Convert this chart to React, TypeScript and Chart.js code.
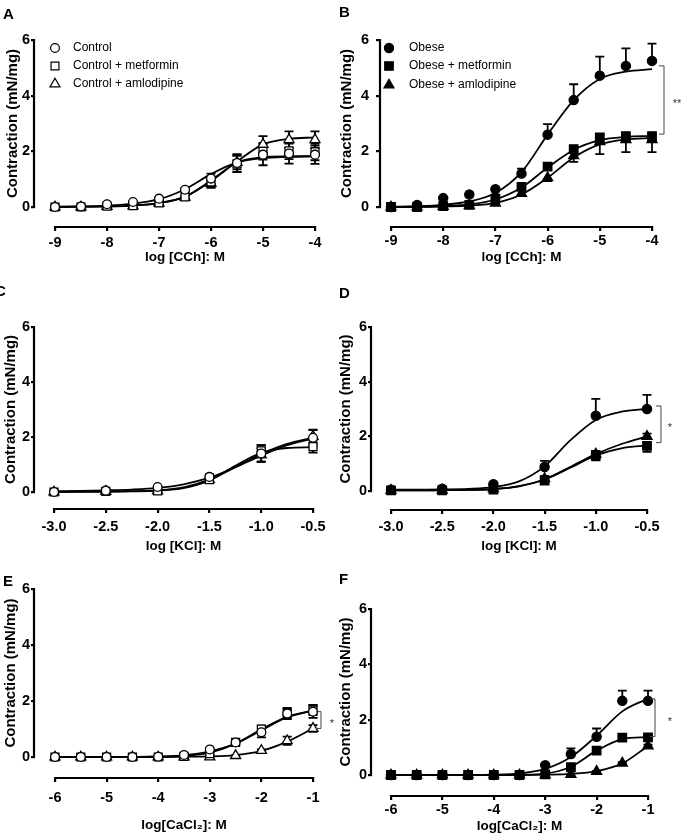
import React, { useEffect, useRef } from 'react';
import { Chart, registerables } from 'chart.js';

Chart.register(...registerables);

const FONT = "'Liberation Sans', Arial, Helvetica, sans-serif";
const CW = 686;
const CH = 837;

// ---------- shared axes ----------
const yTicks = [0, 2, 4, 6];
const yTickLabels = ['0', '2', '4', '6'];
const xCCh = [-9, -8.5, -8, -7.5, -7, -6.5, -6, -5.5, -5, -4.5, -4];
const xTicksCCh = [-9, -8, -7, -6, -5, -4];
const xTickLabelsCCh = ['-9', '-8', '-7', '-6', '-5', '-4'];
const xKCl = [-3, -2.5, -2, -1.5, -1, -0.5];
const xKClFit = [-3, -2.75, -2.5, -2.25, -2, -1.75, -1.5, -1.25, -1, -0.75, -0.5];
const xTicksKCl = [-3, -2.5, -2, -1.5, -1, -0.5];
const xTickLabelsKCl = ['-3.0', '-2.5', '-2.0', '-1.5', '-1.0', '-0.5'];
const xCa = [-6, -5.5, -5, -4.5, -4, -3.5, -3, -2.5, -2, -1.5, -1];
const xTicksCa = [-6, -5, -4, -3, -2, -1];
const xTickLabelsCa = ['-6', '-5', '-4', '-3', '-2', '-1'];

// ---------- panel A : CCh, control ----------
const aControl = [0, 0.02, 0.1, 0.18, 0.3, 0.62, 1.02, 1.58, 1.88, 1.92, 1.88];
const aControlErr = [0, 0, 0.02, 0.03, 0.05, 0.07, 0.18, 0.32, 0.38, 0.36, 0.33];
const aControlFit = [0.01, 0.02, 0.05, 0.12, 0.28, 0.64, 1.18, 1.6, 1.76, 1.8, 1.82];
const aMet = [0, 0, 0.03, 0.05, 0.15, 0.36, 0.9, 1.55, 2.0, 2.02, 1.98];
const aMetErr = [0, 0, 0.01, 0.02, 0.04, 0.06, 0.2, 0.3, 0.3, 0.3, 0.3];
const aMetFit = [0, 0.01, 0.02, 0.05, 0.14, 0.37, 0.95, 1.6, 1.79, 1.82, 1.83];
const aAml = [0, 0, 0.02, 0.04, 0.14, 0.35, 0.85, 1.6, 2.25, 2.42, 2.42];
const aAmlErr = [0, 0, 0.01, 0.02, 0.03, 0.05, 0.15, 0.25, 0.3, 0.3, 0.3];
const aAmlFit = [0, 0.01, 0.02, 0.05, 0.14, 0.37, 0.93, 1.63, 2.25, 2.45, 2.5];

// ---------- panel B : CCh, obese ----------
const bObese = [0, 0.07, 0.32, 0.45, 0.64, 1.2, 2.6, 3.84, 4.72, 5.07, 5.25];
const bObeseErr = [0, 0, 0, 0, 0.04, 0.18, 0.38, 0.57, 0.68, 0.63, 0.62];
const bObeseFit = [0.01, 0.03, 0.08, 0.2, 0.5, 1.25, 2.6, 3.84, 4.6, 4.86, 4.95];
const bMet = [0, 0, 0.03, 0.08, 0.3, 0.72, 1.45, 2.08, 2.5, 2.55, 2.55];
const bMetErr = [0, 0, 0, 0.01, 0.03, 0.05, 0.1, 0.1, 0.1, 0.08, 0.08];
const bMetFit = [0, 0.01, 0.03, 0.09, 0.27, 0.7, 1.42, 2.05, 2.4, 2.52, 2.55];
const bAml = [0, 0, 0.02, 0.05, 0.14, 0.49, 1.05, 1.84, 2.35, 2.42, 2.42];
const bAmlErr = [0, 0, 0, 0.01, 0.03, 0.06, 0.12, 0.22, 0.45, 0.45, 0.45];
const bAmlFit = [0, 0, 0.02, 0.05, 0.15, 0.45, 1.05, 1.78, 2.25, 2.43, 2.48];
const bBracket = [2.62, 5.07];

// ---------- panel C : KCl, control ----------
const cControl = [0, 0.05, 0.18, 0.55, 1.4, 1.97];
const cControlErr = [0, 0.02, 0.03, 0.1, 0.3, 0.28];
const cControlFit = [0.03, 0.04, 0.06, 0.09, 0.15, 0.28, 0.52, 0.9, 1.32, 1.7, 1.95];
const cMet = [0, 0.02, 0.04, 0.45, 1.5, 1.65];
const cMetErr = [0, 0, 0.02, 0.1, 0.2, 0.22];
const cMetFit = [0, 0.01, 0.01, 0.02, 0.05, 0.14, 0.42, 0.95, 1.42, 1.6, 1.63];
const cAml = [0, 0.02, 0.04, 0.45, 1.35, 2.02];
const cAmlErr = [0, 0, 0.02, 0.08, 0.25, 0.25];
const cAmlFit = [0, 0.01, 0.02, 0.03, 0.06, 0.17, 0.45, 0.9, 1.38, 1.75, 1.98];

// ---------- panel D : KCl, obese ----------
const dObese = [0.05, 0.08, 0.25, 0.88, 2.75, 3.0];
const dObeseErr = [0, 0, 0.03, 0.22, 0.62, 0.52];
const dObeseFit = [0.05, 0.05, 0.06, 0.08, 0.14, 0.35, 0.9, 1.85, 2.6, 2.9, 3.0];
const dMet = [0.02, 0.02, 0.05, 0.38, 1.3, 1.65];
const dMetErr = [0, 0, 0.02, 0.05, 0.18, 0.22];
const dMetFit = [0.02, 0.02, 0.03, 0.04, 0.07, 0.17, 0.42, 0.85, 1.3, 1.56, 1.67];
const dAml = [0.02, 0.03, 0.08, 0.45, 1.35, 2.0];
const dAmlErr = [0, 0, 0.02, 0.1, 0.12, 0.1];
const dAmlFit = [0.02, 0.02, 0.03, 0.04, 0.07, 0.18, 0.43, 0.88, 1.35, 1.72, 2.0];
const dBracket = [1.77, 3.11];

// ---------- panel E : CaCl2, control ----------
const eControl = [0, 0, 0, 0, 0.01, 0.07, 0.27, 0.52, 0.88, 1.55, 1.62];
const eControlErr = [0, 0, 0, 0, 0, 0.02, 0.05, 0.06, 0.18, 0.18, 0.22];
const eControlFit = [0, 0, 0, 0.005, 0.02, 0.06, 0.2, 0.48, 0.95, 1.42, 1.66];
const eMet = [0, 0, 0, 0, 0, 0.02, 0.12, 0.52, 1.0, 1.55, 1.68];
const eMetErr = [0, 0, 0, 0, 0, 0.01, 0.03, 0.06, 0.12, 0.2, 0.18];
const eMetFit = [0, 0, 0, 0, 0.01, 0.04, 0.16, 0.48, 0.99, 1.43, 1.66];
const eAml = [0, 0, 0, 0, 0, 0, 0, 0.05, 0.23, 0.58, 1.02];
const eAmlErr = [0, 0, 0, 0, 0, 0, 0, 0.02, 0.04, 0.15, 0.12];
const eAmlFit = [0, 0, 0, 0, 0, 0.01, 0.02, 0.07, 0.22, 0.55, 1.02];
const eBracket = [1.02, 1.62];

// ---------- panel F : CaCl2, obese ----------
const fObese = [0, 0, 0, 0, 0, 0, 0.35, 0.76, 1.38, 2.68, 2.68];
const fObeseErr = [0, 0, 0, 0, 0, 0, 0.02, 0.2, 0.3, 0.37, 0.37];
const fObeseFit = [0, 0, 0, 0, 0.01, 0.06, 0.22, 0.65, 1.42, 2.3, 2.76];
const fMet = [0, 0, 0, 0, 0, 0, 0.02, 0.28, 0.88, 1.35, 1.36];
const fMetErr = [0, 0, 0, 0, 0, 0, 0, 0.05, 0.08, 0.06, 0.06];
const fMetFit = [0, 0, 0, 0, 0, 0.01, 0.05, 0.3, 0.88, 1.3, 1.37];
const fAml = [0, 0, 0, 0, 0, 0, 0, 0.02, 0.13, 0.43, 1.05];
const fAmlErr = [0, 0, 0, 0, 0, 0, 0, 0, 0.02, 0.03, 0.05];
const fAmlFit = [0, 0, 0, 0, 0, 0, 0.01, 0.04, 0.14, 0.42, 1.05];
const fBracket = [1.39, 2.75];

// ---------- types ----------
type Shape = 'circle' | 'rect' | 'triangle';
type Dir = 'up' | 'down' | 'both';
interface Series {
  label: string;
  x: number[];
  y: number[];
  err: number[];
  dir: Dir;
  fitX: number[];
  fit: number[];
  shape: Shape;
  filled: boolean;
}
interface Geo {
  yAxisX: number; y0: number; y6: number; xAxisY: number;
  xFirstPx: number; xLastPx: number;
  yTitleCX: number; xTitleCY: number; xLabelCY: number;
  yTickLen: number; yTickPad: number;
}
interface Panel {
  letter: string;
  letterPos: [number, number];
  series: Series[];
  xTicks: number[];
  xTickLabels: string[];
  xTitle: string;
  geo: Geo;
  legend?: { symX: number; textX: number; rows: number[] };
  bracket?: { range: number[]; dx: number; text: string; starDx: number };
}

const mk = (label: string, x: number[], y: number[], err: number[], dir: Dir, fitX: number[], fit: number[], shape: Shape, filled: boolean): Series =>
  ({ label, x, y, err, dir, fitX, fit, shape, filled });

const panels: Panel[] = [
  {
    letter: 'A', letterPos: [3, 6],
    series: [
      mk('Control', xCCh, aControl, aControlErr, 'both', xCCh, aControlFit, 'circle', false),
      mk('Control + metformin', xCCh, aMet, aMetErr, 'both', xCCh, aMetFit, 'rect', false),
      mk('Control + amlodipine', xCCh, aAml, aAmlErr, 'both', xCCh, aAmlFit, 'triangle', false),
    ],
    xTicks: xTicksCCh, xTickLabels: xTickLabelsCCh, xTitle: 'log [CCh]: M',
    geo: { yAxisX: 35, y0: 207, y6: 40, xAxisY: 226, xFirstPx: 55, xLastPx: 315, yTitleCX: 13, xTitleCY: 257, xLabelCY: 243, yTickLen: 4, yTickPad: 1 },
    legend: { symX: 55, textX: 73, rows: [48, 66, 84] },
  },
  {
    letter: 'B', letterPos: [339, 4],
    series: [
      mk('Obese', xCCh, bObese, bObeseErr, 'up', xCCh, bObeseFit, 'circle', true),
      mk('Obese + metformin', xCCh, bMet, bMetErr, 'both', xCCh, bMetFit, 'rect', true),
      mk('Obese + amlodipine', xCCh, bAml, bAmlErr, 'down', xCCh, bAmlFit, 'triangle', true),
    ],
    xTicks: xTicksCCh, xTickLabels: xTickLabelsCCh, xTitle: 'log [CCh]: M',
    geo: { yAxisX: 381, y0: 207, y6: 40, xAxisY: 226, xFirstPx: 391, xLastPx: 652, yTitleCX: 347, xTitleCY: 257, xLabelCY: 241, yTickLen: 5, yTickPad: 7 },
    legend: { symX: 389, textX: 409, rows: [48, 66, 85] },
    bracket: { range: bBracket, dx: 12, text: '**', starDx: 13 },
  },
  {
    letter: 'C', letterPos: [-5, 283],
    series: [
      mk('Control', xKCl, cControl, cControlErr, 'both', xKClFit, cControlFit, 'circle', false),
      mk('Control + metformin', xKCl, cMet, cMetErr, 'both', xKClFit, cMetFit, 'rect', false),
      mk('Control + amlodipine', xKCl, cAml, cAmlErr, 'both', xKClFit, cAmlFit, 'triangle', false),
    ],
    xTicks: xTicksKCl, xTickLabels: xTickLabelsKCl, xTitle: 'log [KCl]: M',
    geo: { yAxisX: 35, y0: 492, y6: 327, xAxisY: 508, xFirstPx: 54, xLastPx: 313, yTitleCX: 11, xTitleCY: 546, xLabelCY: 527, yTickLen: 4, yTickPad: 1 },
  },
  {
    letter: 'D', letterPos: [339, 285],
    series: [
      mk('Obese', xKCl, dObese, dObeseErr, 'up', xKClFit, dObeseFit, 'circle', true),
      mk('Obese + metformin', xKCl, dMet, dMetErr, 'down', xKClFit, dMetFit, 'rect', true),
      mk('Obese + amlodipine', xKCl, dAml, dAmlErr, 'up', xKClFit, dAmlFit, 'triangle', true),
    ],
    xTicks: xTicksKCl, xTickLabels: xTickLabelsKCl, xTitle: 'log [KCl]: M',
    geo: { yAxisX: 372, y0: 491, y6: 327, xAxisY: 509, xFirstPx: 391, xLastPx: 647, yTitleCX: 346, xTitleCY: 546, xLabelCY: 527, yTickLen: 4, yTickPad: 1 },
    bracket: { range: dBracket, dx: 14, text: '*', starDx: 9 },
  },
  {
    letter: 'E', letterPos: [3, 573],
    series: [
      mk('Control', xCa, eControl, eControlErr, 'both', xCa, eControlFit, 'circle', false),
      mk('Control + metformin', xCa, eMet, eMetErr, 'both', xCa, eMetFit, 'rect', false),
      mk('Control + amlodipine', xCa, eAml, eAmlErr, 'both', xCa, eAmlFit, 'triangle', false),
    ],
    xTicks: xTicksCa, xTickLabels: xTickLabelsCa, xTitle: 'log[CaCl\u2082]: M',
    geo: { yAxisX: 35, y0: 757, y6: 589, xAxisY: 777, xFirstPx: 55, xLastPx: 313, yTitleCX: 11, xTitleCY: 825, xLabelCY: 798, yTickLen: 4, yTickPad: 1 },
    bracket: { range: eBracket, dx: 8, text: '*', starDx: 11 },
  },
  {
    letter: 'F', letterPos: [339, 571],
    series: [
      mk('Obese', xCa, fObese, fObeseErr, 'up', xCa, fObeseFit, 'circle', true),
      mk('Obese + metformin', xCa, fMet, fMetErr, 'both', xCa, fMetFit, 'rect', true),
      mk('Obese + amlodipine', xCa, fAml, fAmlErr, 'both', xCa, fAmlFit, 'triangle', true),
    ],
    xTicks: xTicksCa, xTickLabels: xTickLabelsCa, xTitle: 'log[CaCl\u2082]: M',
    geo: { yAxisX: 372, y0: 775, y6: 609, xAxisY: 795, xFirstPx: 391, xLastPx: 648, yTitleCX: 346, xTitleCY: 826, xLabelCY: 810, yTickLen: 4, yTickPad: 1 },
    bracket: { range: fBracket, dx: 7, text: '*', starDx: 15 },
  },
];

// ---------- marker geometry ----------
const radiusFor = (shape: Shape, filled: boolean) =>
  shape === 'circle' ? (filled ? 4.6 : 4.4) : shape === 'rect' ? (filled ? 6.0 : 5.6) : 5.8;

function drawMarker(ctx: CanvasRenderingContext2D, shape: Shape, x: number, y: number, r: number, filled: boolean) {
  ctx.beginPath();
  if (shape === 'circle') {
    ctx.arc(x, y, r, 0, Math.PI * 2);
  } else if (shape === 'rect') {
    const s = r * Math.SQRT1_2;
    ctx.rect(x - s, y - s, 2 * s, 2 * s);
  } else {
    let a = 0;
    ctx.moveTo(x + Math.sin(a) * r, y - Math.cos(a) * r);
    a += (2 * Math.PI) / 3;
    ctx.lineTo(x + Math.sin(a) * r, y - Math.cos(a) * r);
    a += (2 * Math.PI) / 3;
    ctx.lineTo(x + Math.sin(a) * r, y - Math.cos(a) * r);
    ctx.closePath();
  }
  ctx.fillStyle = filled ? '#000' : '#fff';
  ctx.fill();
  ctx.lineWidth = 1.2;
  ctx.strokeStyle = '#000';
  ctx.stroke();
}

// ---------- plugin: error bars, Prism-style axes, legend, brackets ----------
const prismPlugin = {
  id: 'prism',
  beforeDatasetsDraw(chart: any, _args: any, opts: any) {
    const ctx: CanvasRenderingContext2D = chart.ctx;
    const xs = chart.scales.x;
    const ys = chart.scales.y;
    ctx.save();
    ctx.strokeStyle = '#000';
    ctx.lineWidth = 1.8;
    const cap = 4.5;
    (opts.series as Series[]).forEach((s) => {
      s.x.forEach((xv, i) => {
        const e = s.err[i];
        if (!e) return;
        const px = xs.getPixelForValue(xv);
        const py = ys.getPixelForValue(s.y[i]);
        const top = s.dir !== 'down' ? ys.getPixelForValue(s.y[i] + e) : py;
        const bot = s.dir !== 'up' ? ys.getPixelForValue(s.y[i] - e) : py;
        ctx.beginPath();
        ctx.moveTo(px, top);
        ctx.lineTo(px, bot);
        if (s.dir !== 'down') { ctx.moveTo(px - cap, top); ctx.lineTo(px + cap, top); }
        if (s.dir !== 'up') { ctx.moveTo(px - cap, bot); ctx.lineTo(px + cap, bot); }
        ctx.stroke();
      });
    });
    ctx.restore();
  },
  afterDraw(chart: any, _args: any, opts: any) {
    const ctx: CanvasRenderingContext2D = chart.ctx;
    const xs = chart.scales.x;
    const ys = chart.scales.y;
    const area = chart.chartArea;
    const xt: number[] = opts.xTicks;
    ctx.save();
    ctx.strokeStyle = '#000';
    ctx.lineWidth = 2.2;
    // y axis: 0..6 only
    ctx.beginPath();
    ctx.moveTo(area.left - 1, ys.getPixelForValue(yTicks[0]) + 1);
    ctx.lineTo(area.left - 1, ys.getPixelForValue(yTicks[yTicks.length - 1]) - 1);
    ctx.stroke();
    // x axis: first..last tick, offset below
    ctx.beginPath();
    ctx.moveTo(xs.getPixelForValue(xt[0]) - 1, area.bottom + 1);
    ctx.lineTo(xs.getPixelForValue(xt[xt.length - 1]) + 1, area.bottom + 1);
    ctx.stroke();

    // legend
    if (opts.legend) {
      ctx.font = `12px ${FONT}`;
      ctx.textBaseline = 'middle';
      ctx.textAlign = 'left';
      (opts.series as Series[]).forEach((s, i) => {
        const y = opts.legend.rows[i];
        drawMarker(ctx, s.shape, opts.legend.symX, y, radiusFor(s.shape, s.filled), s.filled);
        ctx.fillStyle = '#000';
        ctx.fillText(s.label, opts.legend.textX, y);
      });
    }

    // significance bracket
    if (opts.bracket) {
      const b = opts.bracket;
      const bx = xs.getPixelForValue(xt[xt.length - 1]) + b.dx;
      const yHi = ys.getPixelForValue(b.range[1]);
      const yLo = ys.getPixelForValue(b.range[0]);
      ctx.strokeStyle = '#444';
      ctx.lineWidth = 1;
      ctx.beginPath();
      ctx.moveTo(bx - 5, yHi);
      ctx.lineTo(bx, yHi);
      ctx.lineTo(bx, yLo);
      ctx.lineTo(bx - 5, yLo);
      ctx.stroke();
      ctx.fillStyle = '#333';
      ctx.font = `11px ${FONT}`;
      ctx.textAlign = 'center';
      ctx.textBaseline = 'middle';
      ctx.fillText(b.text, bx + b.starDx, (yHi + yLo) / 2 + 4);
    }
    ctx.restore();
  },
};

function buildConfig(p: Panel): any {
  const g = p.geo;
  const yppu = (g.y0 - g.y6) / 6;
  const gapY = g.xAxisY - g.y0;
  const ymin = -gapY / yppu;
  const ymax = 6 + gapY / yppu;
  const caTop = g.y6 - gapY;
  const xFirst = p.xTicks[0];
  const xLast = p.xTicks[p.xTicks.length - 1];
  const xppu = (g.xLastPx - g.xFirstPx) / (xLast - xFirst);
  const gapX = g.xFirstPx - g.yAxisX;
  const xmin = xFirst - gapX / xppu;
  const xmax = xLast + gapX / xppu;
  const caRight = g.xLastPx + gapX;

  const tickSize = 14.5;
  const yTitleSize = 15;
  const xTitleSize = 13.5;
  const yLh = yTitleSize * 1.2;
  const xLh = xTitleSize * 1.2;
  const tickLh = tickSize * 1.2;
  const xTickLen = 5;

  const scaleLeft = g.yTitleCX - 10;
  const W = g.yAxisX - scaleLeft;
  const yTitlePad = 10 - yLh / 2;
  const xTitlePb = 2;
  const H = g.xTitleCY - g.xAxisY + xLh / 2 + xTitlePb;
  const xLabelPad = g.xLabelCY - g.xAxisY - xTickLen - tickLh / 2;

  const datasets: any[] = [];
  p.series.forEach((s) => {
    datasets.push({
      label: s.label,
      data: s.x.map((x, i) => ({ x, y: s.y[i] })),
      showLine: false,
      pointStyle: s.shape,
      pointRadius: radiusFor(s.shape, s.filled),
      pointBackgroundColor: s.filled ? '#000' : '#fff',
      pointBorderColor: '#000',
      pointBorderWidth: 1.3,
      order: 0,
      clip: false,
    });
  });
  p.series.forEach((s) => {
    datasets.push({
      label: s.label + ' fit',
      data: s.fitX.map((x, i) => ({ x, y: s.fit[i] })),
      showLine: true,
      pointRadius: 0,
      borderColor: '#000',
      borderWidth: 1.8,
      cubicInterpolationMode: 'monotone',
      fill: false,
      order: 1,
      clip: false,
    });
  });

  return {
    type: 'scatter',
    data: { datasets },
    plugins: [prismPlugin],
    options: {
      responsive: false,
      animation: false,
      devicePixelRatio: 1,
      events: [],
      layout: {
        padding: { left: scaleLeft, top: caTop, right: CW - caRight, bottom: CH - g.xAxisY - H },
      },
      plugins: {
        legend: { display: false },
        tooltip: { enabled: false },
        prism: { series: p.series, xTicks: p.xTicks, legend: p.legend, bracket: p.bracket },
      },
      scales: {
        x: {
          type: 'linear',
          min: xmin,
          max: xmax,
          afterBuildTicks: (ax: any) => { ax.ticks = p.xTicks.map((v) => ({ value: v })); },
          afterFit: (ax: any) => { ax.height = H; },
          ticks: {
            autoSkip: false,
            maxRotation: 0,
            padding: xLabelPad,
            color: '#000',
            font: { family: FONT, size: tickSize, weight: 'bold' },
            callback: (_v: any, i: number) => p.xTickLabels[i],
          },
          grid: { display: true, drawOnChartArea: false, drawTicks: true, tickLength: xTickLen, color: '#000', lineWidth: 2.2 },
          border: { display: false },
          title: {
            display: true,
            text: p.xTitle,
            color: '#000',
            font: { family: FONT, size: xTitleSize, weight: 'bold' },
            padding: { top: 0, bottom: xTitlePb },
          },
        },
        y: {
          type: 'linear',
          min: ymin,
          max: ymax,
          afterBuildTicks: (ax: any) => { ax.ticks = yTicks.map((v) => ({ value: v })); },
          afterFit: (ax: any) => { ax.width = W; },
          ticks: {
            autoSkip: false,
            padding: g.yTickPad,
            color: '#000',
            font: { family: FONT, size: tickSize, weight: 'bold' },
            callback: (_v: any, i: number) => yTickLabels[i],
          },
          grid: { display: true, drawOnChartArea: false, drawTicks: true, tickLength: g.yTickLen, color: '#000', lineWidth: 2.2 },
          border: { display: false },
          title: {
            display: true,
            text: 'Contraction (mN/mg)',
            color: '#000',
            font: { family: FONT, size: yTitleSize, weight: 'bold' },
            padding: { top: yTitlePad, bottom: 0 },
          },
        },
      },
    },
  };
}

function PanelChart({ panel }: { panel: Panel }) {
  const ref = useRef<HTMLCanvasElement>(null);
  useEffect(() => {
    if (!ref.current) return;
    const chart = new Chart(ref.current, buildConfig(panel));
    return () => chart.destroy();
  }, [panel]);
  return (
    <canvas
      ref={ref}
      width={CW}
      height={CH}
      style={{ position: 'absolute', left: 0, top: 0, width: CW, height: CH }}
    />
  );
}

export default function App() {
  return (
    <div
      style={{
        position: 'fixed',
        left: 0,
        top: 0,
        width: CW,
        height: CH,
        background: '#fff',
        overflow: 'hidden',
        fontFamily: FONT,
      }}
    >
      {panels.map((p) => (
        <PanelChart key={p.letter} panel={p} />
      ))}
      {panels.map((p) => (
        <div
          key={'L' + p.letter}
          style={{
            position: 'absolute',
            left: p.letterPos[0],
            top: p.letterPos[1],
            fontSize: 15,
            lineHeight: '15px',
            fontWeight: 'bold',
            color: '#000',
          }}
        >
          {p.letter}
        </div>
      ))}
    </div>
  );
}
